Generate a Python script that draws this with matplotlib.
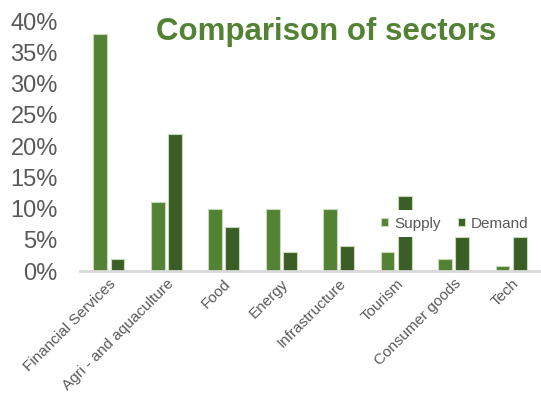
import numpy as np
import matplotlib.pyplot as plt
from matplotlib.ticker import PercentFormatter

plt.rcParams['font.family'] = ['Liberation Sans', 'DejaVu Sans']

sectors = ["Financial Services", "Agri - and aquaculture", "Food", "Energy",
           "Infrastructure", "Tourism", "Consumer goods", "Tech"]
supply = [38, 11, 10, 10, 10, 3, 2, 0.8]
demand = [2, 22, 7, 3, 4, 12, 5.5, 5.5]

supply_col = '#548235'
demand_col = '#3b5e26'
grey = '#595959'

fig = plt.figure(figsize=(5.41, 3.98), dpi=100)
ax = fig.add_axes([0.148, 0.319, 0.85, 0.628])

x = np.arange(len(sectors))
w = 0.24
ax.bar(x - w/2 - 0.03, np.array(supply)/100, w, color=supply_col,
       edgecolor='#c5d9b8', linewidth=0.8, label='Supply')
ax.bar(x + w/2 + 0.03, np.array(demand)/100, w, color=demand_col,
       edgecolor='#c5d9b8', linewidth=0.8, label='Demand')

ax.set_xlim(-0.5, len(sectors) - 0.5)
ax.set_ylim(0, 0.40)
ax.set_yticks(np.arange(0, 0.41, 0.05))
ax.yaxis.set_major_formatter(PercentFormatter(1.0, decimals=0))
ax.tick_params(axis='y', length=0, labelsize=17, labelcolor=grey, pad=16)
ax.set_xticks(x)
ax.set_xticklabels(sectors, rotation=45, ha='right', rotation_mode='anchor',
                   fontsize=11, color=grey)
ax.tick_params(axis='x', length=0, pad=4)

for s in ['top', 'right', 'left']:
    ax.spines[s].set_visible(False)
ax.spines['bottom'].set_color('#d9d9d9')
ax.spines['bottom'].set_linewidth(2)

leg = ax.legend(loc='center', bbox_to_anchor=(0.815, 0.19), ncol=2, frameon=True,
                fontsize=11, handlelength=0.45, handleheight=0.45, handletextpad=0.4,
                columnspacing=1.1, borderpad=0.45, labelcolor=grey)
leg.get_frame().set_edgecolor('none')
leg.get_frame().set_facecolor('white')
leg.get_frame().set_alpha(1)
leg.get_frame().set_boxstyle('square', pad=0.0)

fig.text(0.602, 0.92, 'Comparison of sectors', ha='center', va='center',
         fontsize=22.5, fontweight='bold', color='#548235')

fig.savefig('out.png', dpi=100)
